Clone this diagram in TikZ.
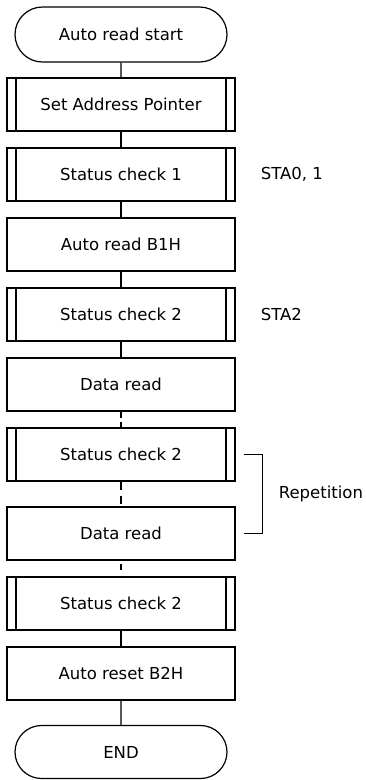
\documentclass[tikz,border=0pt]{standalone}
\usepackage{fontspec}
\setmainfont{DejaVu Sans}
\usetikzlibrary{positioning,shapes.misc}

\begin{document}
\begin{tikzpicture}[x=1pt,y=-1pt]
        \tikzset{Process/.style={%
                shape=rectangle,%
                draw=black,%
                line width=1.2pt,%
                minimum width=228pt,%
                minimum height=53pt,%
                inner sep=0pt,%
                font=\fontsize{16.5}{20}\selectfont,%
                node distance=70pt,%
            }}
        \tikzset{SubProcess/.style={%
                Process,%
                path picture={%
                    \draw[line width=1.2pt] ([xshift=9pt]path picture bounding box.north west) -- ([xshift=9pt]path picture bounding box.south west);
                    \draw[line width=1.2pt] ([xshift=-9pt]path picture bounding box.north east) -- ([xshift=-9pt]path picture bounding box.south east);
                },%
            }}
        \tikzset{Terminal/.style={%
                Process,%
                shape=rounded rectangle,%
                minimum width=212pt,%
                minimum height=55pt,%
            }}
        \tikzset{Label/.style={%
                font=\fontsize{16.5}{20}\selectfont,%
                inner sep=0pt,%
            }}

        \useasboundingbox (0,0) rectangle (365,780);

        \node[Terminal] (start) at (121,34.5) {Auto read start};
        \node[SubProcess, below of=start] (sap) {Set Address Pointer};
        \node[SubProcess, below of=sap] (sc1) {Status check 1};
        \node[Process, below of=sc1] (b1h) {Auto read B1H};
        \node[SubProcess, below of=b1h] (sc2) {Status check 2};
        \node[Process, below of=sc2] (dr) {Data read};
        \node[SubProcess, below of=dr] (sc2b) {Status check 2};
        \node[Process, below of=sc2b, node distance=79pt] (dr2) {Data read};
        \node[SubProcess, below of=dr2] (sc2c) {Status check 2};
        \node[Process, below of=sc2c] (b2h) {Auto reset B2H};
        \node[Terminal, minimum height=53pt, below of=b2h, node distance=78.5pt] (end) {END};

        \node[Label, right=25pt of sc1] (sta01) {STA0, 1};
        \node[Label, right=25pt of sc2] (sta2) {STA2};

        \path (start) edge[-,line width=1.2pt] (sap);
        \path (sap) edge[-,line width=1.2pt] (sc1);
        \path (sc1) edge[-,line width=1.2pt] (b1h);
        \path (b1h) edge[-,line width=1.2pt] (sc2);
        \path (sc2) edge[-,line width=1.2pt] (dr);
        \path (dr) edge[-,line width=1.2pt,dash pattern=on 6pt off 4pt] (sc2b);
        \path (sc2b) edge[-,line width=1.2pt,dash pattern=on 8pt off 6pt] (dr2);
        \path (dr2) edge[-,line width=1.2pt,dash pattern=on 0pt off 3pt on 6pt off 7pt] (sc2c);
        \path (sc2c) edge[-,line width=1.2pt] (b2h);
        \path (b2h) edge[-,line width=1.2pt] (end);

        % repetition bracket
        \coordinate (rtop) at ([xshift=8pt]sc2b.east);
        \coordinate (rbot) at ([xshift=8pt]dr2.east);
        \draw[line width=1.2pt] (rtop) -- ++(19pt,0) |- (rbot);
        \path (rtop) -- (rbot) coordinate[midway] (rmid);
        \node[Label, right=35pt of rmid] (rep) {Repetition};
\end{tikzpicture}
\end{document}
